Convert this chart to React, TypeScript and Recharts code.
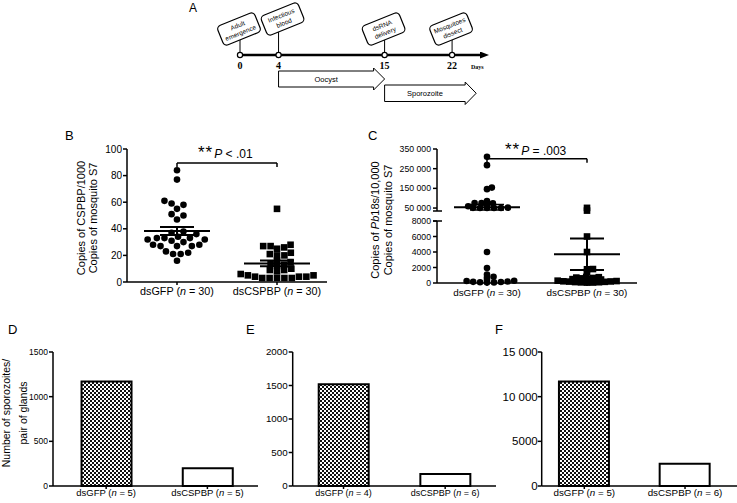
import React from 'react';
import {
  ScatterChart, Scatter, XAxis, YAxis, ReferenceLine, ReferenceArea, ErrorBar,
  BarChart, Bar, Cell,
} from 'recharts';

const SANS = '"Liberation Sans", Arial, Helvetica, sans-serif';
const SERIF = '"Liberation Serif", "Times New Roman", serif';
const NBSP = '\u00A0';

// ---------------- Panel A: timeline ----------------
const timelineDays = [0, 4, 15, 22];
const timelineEvents = [
  ['Adult', 'emergence'],
  ['Infectious', 'blood'],
  ['dsRNA', 'delivery'],
  ['Mosquitoes', 'dissect'],
];
const stageNames = ['Oocyst', 'Sporozoite'];
const stageStartDay = [4, 15];
const stageEndDay = [15, 24.5];

// ---------------- Groups ----------------
const groupNames = ['dsGFP', 'dsCSPBP'];

// Panel B: copies of CSPBP / 1000 copies of S7
const bGroupN = [30, 30];
const bGfpCopies = [84, 77, 61, 59, 58, 55, 51, 50, 47, 38, 37, 36, 34, 33, 33, 33, 32, 32, 31, 30, 28, 28, 27, 27, 27, 23, 22, 21, 21, 16];
const bCspbpCopies = [55, 28, 27, 27, 26, 25, 22, 21, 20, 20, 16, 15, 14, 13, 12, 10, 9, 9, 8, 6, 5, 5, 4, 4, 4, 3, 3, 3, 3, 3];

// Panel C: copies of Pb18s / 10,000 copies of S7
const cGroupN = [30, 30];
const cGfpCopies = [311000, 268000, 154000, 146000, 85000, 76000, 75000, 74000, 68000, 59000, 52000, 51000, 50000, 50000, 50000, 50000, 4000, 1940, 1100, 800, 700, 400, 300, 250, 200, 150, 120, 100, 80, 60];
const cCspbpCopies = [51000, 37000, 6000, 4000, 1800, 1770, 1420, 800, 750, 700, 650, 600, 550, 500, 450, 400, 380, 350, 300, 280, 250, 220, 200, 180, 150, 120, 100, 80, 60, 50];

// Panels D, E, F: sporozoites per pair of glands
const dSporozoites = [1170, 200];
const dGroupN = [5, 5];
const eSporozoites = [1520, 180];
const eGroupN = [4, 6];
const fSporozoites = [11700, 2500];
const fGroupN = [5, 6];

// ---------------- helpers ----------------
const mean = (a: number[]) => a.reduce((s, v) => s + v, 0) / a.length;
const sem = (a: number[]) => {
  const m = mean(a);
  const sd = Math.sqrt(a.reduce((s, v) => s + (v - m) * (v - m), 0) / (a.length - 1));
  return sd / Math.sqrt(a.length);
};

// beeswarm: horizontal offsets (px) so that marks do not collide; k stretches vertical distance
function swarmOffsets(values: number[], toPx: (v: number) => number, gap: number, k = 1): number[] {
  const order = values.map((_, i) => i).sort((a, b) => values[a] - values[b]);
  const placed: { x: number; y: number }[] = [];
  const out = new Array(values.length).fill(0);
  for (const i of order) {
    const y = toPx(values[i]);
    const blocks: [number, number][] = [];
    for (const p of placed) {
      const dy = Math.abs(p.y - y) * k;
      if (dy < gap) {
        const dx = Math.sqrt(gap * gap - dy * dy);
        blocks.push([p.x - dx, p.x + dx]);
      }
    }
    const cands = [0];
    blocks.forEach(([a, b]) => cands.push(a, b));
    cands.sort((a, b) => Math.abs(a) - Math.abs(b) || b - a);
    let best = 0;
    for (const c of cands) {
      if (blocks.every(([a, b]) => c <= a + 1e-6 || c >= b - 1e-6)) { best = c; break; }
    }
    out[i] = best;
    placed.push({ x: best, y });
  }
  return out;
}

const AX = { stroke: '#000', strokeWidth: 1.5 };

function makeGroupTick(ns: number[], fontSize: number, dy: number) {
  return (props: any) => {
    const { x, y, payload } = props;
    const i = Math.round(payload.value) - 1;
    if (i < 0 || i > 1) return <g />;
    return (
      <text x={x} y={y} dy={dy} textAnchor="middle" fontSize={fontSize} fontFamily={SANS} fill="#000">
        {`${groupNames[i]} (`}<tspan fontStyle="italic">n</tspan>{` = ${ns[i]})`}
      </text>
    );
  };
}

const Dot = (p: any) => <circle cx={p.cx + (p.payload.off || 0)} cy={p.cy} r={3.3} fill="#000" />;
const Sq = (p: any) => <rect x={p.cx + (p.payload.off || 0) - 3.3} y={p.cy - 3.3} width={6.6} height={6.6} fill="#000" />;
const MeanLine = (p: any) => (
  <line x1={p.cx - 33} x2={p.cx + 33} y1={p.cy} y2={p.cy} stroke="#000" strokeWidth={2} />
);

// ---------------- Panel A ----------------
const A_WIDTH = 320, A_LEFT = 60, A_RIGHT = 19, A_DOMAIN_MAX = 25;
const A_PX_PER_DAY = (A_WIDTH - A_LEFT - A_RIGHT) / A_DOMAIN_MAX;

const EventShape = (p: any) => {
  const { cx, cy, payload } = p;
  const [l1, l2] = payload.lines;
  const lift = payload.crowded ? 10 : 0;
  const shift = payload.crowded ? 4 : -1;
  return (
    <g>
      <line x1={cx} y1={cy} x2={cx} y2={cy - 15 - lift} stroke="#000" strokeWidth={1} />
      <g transform={`translate(${cx + shift},${cy - 26 - lift}) rotate(-22)`}>
        <rect x={-20} y={-10.5} width={40} height={21} rx={4} fill="#fff" stroke="#000" strokeWidth={1.2} />
        <text textAnchor="middle" fontSize={6.5} fontFamily={SANS} fill="#000">
          <tspan x={0} y={-1.5}>{l1}</tspan>
          <tspan x={0} y={6.5}>{l2}</tspan>
        </text>
      </g>
      <circle cx={cx} cy={cy} r={2.6} fill="#fff" stroke="#000" strokeWidth={1.2} />
    </g>
  );
};

const StageArrow = (p: any) => {
  const { x, y, width, height, label } = p;
  const head = 11, flare = 3;
  const x2 = x + width;
  const xb = x2 - head;
  const pts = `${x},${y} ${xb},${y} ${xb},${y - flare} ${x2},${y + height / 2} ${xb},${y + height + flare} ${xb},${y + height} ${x},${y + height}`;
  return (
    <g>
      <polygon points={pts} fill="#fff" stroke="#000" strokeWidth={1} />
      <text x={(x + xb) / 2} y={y + height / 2} dy="0.35em" textAnchor="middle" fontSize={7.5} fontFamily={SANS} fill="#000">{label}</text>
    </g>
  );
};

const STAGE_ROWS: [number, number][] = [[-16, -32], [-30, -46.5]];

function PanelA() {
  const events = timelineDays.map((d, i) => ({
    day: d, y: 0, lines: timelineEvents[i],
    crowded: i > 0 && (d - timelineDays[i - 1]) * A_PX_PER_DAY < 50,
  }));
  return (
    <ScatterChart width={A_WIDTH} height={110} margin={{ top: 0, right: A_RIGHT, bottom: 0, left: A_LEFT }}>
      <XAxis type="number" dataKey="day" domain={[0, A_DOMAIN_MAX]} ticks={timelineDays} interval={0} height={55}
        tickLine={false} tickSize={0} tickMargin={7}
        axisLine={{ stroke: '#000', strokeWidth: 2.5, markerEnd: 'url(#tlArrow)' }}
        tick={{ fontSize: 10, fontFamily: SERIF, fontWeight: 'bold', fill: '#000' }} />
      <YAxis type="number" dataKey="y" domain={[0, 55]} hide />
      {stageNames.map((s, i) => (
        <ReferenceArea key={s} x1={stageStartDay[i]} x2={stageEndDay[i]} y1={STAGE_ROWS[i][0]} y2={STAGE_ROWS[i][1]}
          ifOverflow="visible" shape={(sp: any) => <StageArrow {...sp} label={s} />} />
      ))}
      <Scatter data={events} isAnimationActive={false} shape={EventShape} />
    </ScatterChart>
  );
}

// ---------------- Panel B ----------------
const B_PLOT_H = 133;
function PanelB() {
  const toPx = (v: number) => -v * B_PLOT_H / 100;
  const og = swarmOffsets(bGfpCopies, toPx, 7.6);
  const oc = swarmOffsets(bCspbpCopies, toPx, 7.4, 1.4);
  const gfp = bGfpCopies.map((v, i) => ({ x: 1, y: v, off: og[i] }));
  const csp = bCspbpCopies.map((v, i) => ({ x: 2, y: v, off: oc[i] }));
  const summary = [
    { x: 1, y: mean(bGfpCopies), sem: sem(bGfpCopies) },
    { x: 2, y: mean(bCspbpCopies), sem: sem(bCspbpCopies) },
  ];
  return (
    <ScatterChart width={290} height={175} margin={{ top: 19, right: 13, bottom: 0, left: 0 }}>
      <XAxis type="number" dataKey="x" domain={[0.5, 2.5]} ticks={[1, 2]} interval={0} height={23}
        tickSize={3} tickMargin={2} axisLine={AX} tickLine={AX} tick={makeGroupTick(bGroupN, 10.8, 7.5)} />
      <YAxis type="number" dataKey="y" domain={[0, 100]} ticks={[0, 20, 40, 60, 80, 100]} interval={0} width={77}
        tickSize={4} tickMargin={1} axisLine={AX} tickLine={AX}
        tick={{ fontSize: 10, fontFamily: SANS, fill: '#000' }} />
      <ReferenceLine segment={[{ x: 1, y: 89.5 }, { x: 2, y: 89.5 }]} stroke="#000" strokeWidth={1.5} />
      <ReferenceLine segment={[{ x: 1, y: 89.5 }, { x: 1, y: 86.5 }]} stroke="#000" strokeWidth={1.5} />
      <ReferenceLine segment={[{ x: 2, y: 89.5 }, { x: 2, y: 86.5 }]} stroke="#000" strokeWidth={1.5} />
      <Scatter data={gfp} isAnimationActive={false} shape={Dot} />
      <Scatter data={csp} isAnimationActive={false} shape={Sq} />
      <Scatter data={summary} isAnimationActive={false} shape={MeanLine}>
        <ErrorBar dataKey="sem" direction="y" width={17} stroke="#000" strokeWidth={2} />
      </Scatter>
    </ScatterChart>
  );
}

// ---------------- Panel C (broken axis) ----------------
const C_UP_TOP = 149, C_UP_H = 62, C_UP_MIN = 35000, C_UP_MAX = 350000;
const C_LO_TOP = 221, C_LO_H = 62, C_LO_MAX = 8000;
const C_SPLIT = 20000;
function cPx(v: number) {
  if (v >= C_SPLIT) return C_UP_TOP + C_UP_H - (v - C_UP_MIN) * C_UP_H / (C_UP_MAX - C_UP_MIN);
  return C_LO_TOP + C_LO_H - v * C_LO_H / C_LO_MAX;
}
const upFmt = (v: number) => `${v / 1000}${NBSP}000`;

function PanelC() {
  const og = swarmOffsets(cGfpCopies, cPx, 7, 3.2);
  const oc = swarmOffsets(cCspbpCopies, cPx, 6, 3);
  const gfp = cGfpCopies.map((v, i) => ({ x: 1, y: v, off: og[i] }));
  const csp = cCspbpCopies.map((v, i) => ({ x: 2, y: v, off: oc[i] }));
  const mg = mean(cGfpCopies), mc = mean(cCspbpCopies);
  const sumG = [{ x: 1, y: mg, sem: sem(cGfpCopies) }];
  const sumC = [{ x: 2, y: mc, sem: sem(cCspbpCopies) }];
  const upper = (d: any[]) => d.filter((p) => p.y >= C_SPLIT);
  const lower = (d: any[]) => d.filter((p) => p.y < C_SPLIT);
  const upTop = C_UP_TOP - 130;
  return (
    <>
      <div style={{ position: 'absolute', left: 360, top: 130 }}>
        <ScatterChart width={290} height={upTop + C_UP_H + 10} margin={{ top: upTop, right: 13, bottom: 10, left: 0 }}>
          <XAxis type="number" dataKey="x" domain={[0.5, 2.5]} hide />
          <YAxis type="number" dataKey="y" domain={[C_UP_MIN, C_UP_MAX]} ticks={[50000, 150000, 250000, 350000]} interval={0}
            width={77} tickSize={4} tickMargin={2} axisLine={AX} tickLine={AX} tickFormatter={upFmt}
            tick={{ fontSize: 8.7, fontFamily: SANS, fill: '#000' }} />
          <ReferenceLine segment={[{ x: 1, y: 300000 }, { x: 2, y: 300000 }]} stroke="#000" strokeWidth={1.5} />
          <ReferenceLine segment={[{ x: 1, y: 300000 }, { x: 1, y: 280000 }]} stroke="#000" strokeWidth={1.5} />
          <ReferenceLine segment={[{ x: 2, y: 300000 }, { x: 2, y: 280000 }]} stroke="#000" strokeWidth={1.5} />
          <Scatter data={upper(gfp)} isAnimationActive={false} shape={Dot} />
          <Scatter data={upper(csp)} isAnimationActive={false} shape={Sq} />
          <Scatter data={upper(sumG)} isAnimationActive={false} shape={MeanLine}>
            <ErrorBar dataKey="sem" direction="y" width={17} stroke="#000" strokeWidth={1.5} />
          </Scatter>
        </ScatterChart>
      </div>
      <div style={{ position: 'absolute', left: 360, top: 200 }}>
        <ScatterChart width={290} height={105} margin={{ top: C_LO_TOP - 200, right: 13, bottom: 0, left: 0 }}>
          <XAxis type="number" dataKey="x" domain={[0.5, 2.5]} ticks={[1, 2]} interval={0} height={105 - (C_LO_TOP - 200) - C_LO_H}
            tickSize={3} tickMargin={2} axisLine={AX} tickLine={AX} tick={makeGroupTick(cGroupN, 9.9, 7.5)} />
          <YAxis type="number" dataKey="y" domain={[0, C_LO_MAX]} ticks={[0, 2000, 4000, 6000, 8000]} interval={0}
            width={77} tickSize={4} tickMargin={2} axisLine={AX} tickLine={AX}
            tick={{ fontSize: 8.7, fontFamily: SANS, fill: '#000' }} />
          <Scatter data={lower(gfp)} isAnimationActive={false} shape={Dot} />
          <Scatter data={lower(csp)} isAnimationActive={false} shape={Sq} />
          <Scatter data={lower(sumC)} isAnimationActive={false} shape={MeanLine}>
            <ErrorBar dataKey="sem" direction="y" width={17} stroke="#000" strokeWidth={2} />
          </Scatter>
        </ScatterChart>
      </div>
    </>
  );
}

// ---------------- Panels D, E, F ----------------
function BarPanel(props: {
  left: number; width: number; yWidth: number; values: number[]; ns: number[];
  domainX: [number, number]; yMax: number; yTicks: number[]; yFont: number; xFont: number; tickMargin: number;
  fmt?: (v: number) => string;
}) {
  const { left, width, yWidth, values, ns, domainX, yMax, yTicks, yFont, xFont, tickMargin, fmt } = props;
  const data = values.map((v, i) => ({ x: i + 1, value: v }));
  return (
    <div style={{ position: 'absolute', left, top: 330 }}>
      <BarChart width={width} height={173} data={data} margin={{ top: 22, right: 0, bottom: 0, left: 0 }}>
        <XAxis type="number" dataKey="x" domain={domainX} ticks={[1, 2]} interval={0} allowDataOverflow height={17}
          tickSize={3} tickMargin={2} axisLine={AX} tickLine={AX} tick={makeGroupTick(ns, xFont, 5)} />
        <YAxis type="number" domain={[0, yMax]} ticks={yTicks} interval={0} width={yWidth}
          tickSize={4} tickMargin={tickMargin} axisLine={AX} tickLine={AX} tickFormatter={fmt}
          tick={{ fontSize: yFont, fontFamily: SANS, fill: '#000' }} />
        <Bar dataKey="value" barSize={50} stroke="#000" strokeWidth={2} isAnimationActive={false}>
          {data.map((d, i) => <Cell key={i} fill={i === 0 ? 'url(#checker)' : '#fff'} />)}
        </Bar>
      </BarChart>
    </div>
  );
}

const fFmt = (v: number) => (v >= 10000 ? `${v / 1000}${NBSP}000` : `${v}`);

// ---------------- Overlay (labels, defs) ----------------
function Overlay() {
  const letter = { fontSize: 13, fontFamily: SANS, fill: '#000' } as const;
  return (
    <svg width={737} height={503} style={{ position: 'absolute', left: 0, top: 0, pointerEvents: 'none' }}>
      <defs>
        <pattern id="checker" width={4} height={4} patternUnits="userSpaceOnUse">
          <rect x={0} y={0} width={4} height={4} fill="#fff" />
          <rect x={0} y={0} width={2} height={2} fill="#111" />
          <rect x={2} y={2} width={2} height={2} fill="#111" />
        </pattern>
        <marker id="tlArrow" markerWidth={9} markerHeight={7} refX={1} refY={3.5} orient="auto" markerUnits="userSpaceOnUse">
          <path d="M0,0 L9,3.5 L0,7 z" fill="#000" />
        </marker>
      </defs>
      <text x={189} y={12} {...letter} fontSize={12}>A</text>
      <text x={65} y={140} {...letter}>B</text>
      <text x={368} y={140} {...letter}>C</text>
      <text x={8} y={334} {...letter}>D</text>
      <text x={246} y={334} {...letter}>E</text>
      <text x={495} y={334} {...letter}>F</text>

      <text x={471} y={68.5} fontSize={6} fontFamily={SERIF} fontWeight="bold" fill="#000">Days</text>

      {/* B axis title */}
      <text transform="translate(85,218) rotate(-90)" textAnchor="middle" fontSize={11} fontFamily={SANS} fill="#000">Copies of CSPBP/1000</text>
      <text transform="translate(97,218) rotate(-90)" textAnchor="middle" fontSize={11} fontFamily={SANS} fill="#000">Copies of mosquito S7</text>
      {/* C axis title */}
      <text transform="translate(379,220) rotate(-90)" textAnchor="middle" fontSize={11} fontFamily={SANS} fill="#000">
        Copies of <tspan fontStyle="italic">Pb</tspan>18s/10,000
      </text>
      <text transform="translate(391.5,220) rotate(-90)" textAnchor="middle" fontSize={11} fontFamily={SANS} fill="#000">Copies of mosquito S7</text>
      {/* D axis title */}
      <text transform="translate(10,413) rotate(-90)" textAnchor="middle" fontSize={10.5} fontFamily={SANS} fill="#000">Number of sporozoites/</text>
      <text transform="translate(27,413) rotate(-90)" textAnchor="middle" fontSize={10.5} fontFamily={SANS} fill="#000">pair of glands</text>

      {/* significance texts */}
      <text x={198} y={158.3} fontFamily={SANS} fill="#000">
        <tspan fontSize={17} letterSpacing={1}>**</tspan>
        <tspan fontSize={12} fontStyle="italic" dx={1}>P</tspan>
        <tspan fontSize={12}> &lt; .01</tspan>
      </text>
      <text x={505} y={155} fontFamily={SANS} fill="#000">
        <tspan fontSize={17} letterSpacing={1}>**</tspan>
        <tspan fontSize={12} fontStyle="italic" dx={1}>P</tspan>
        <tspan fontSize={12}> = .003</tspan>
      </text>

      {/* axis break caps */}
      <line x1={433} x2={442} y1={211} y2={211} stroke="#000" strokeWidth={1.5} />
      <line x1={433} x2={442} y1={221} y2={221} stroke="#000" strokeWidth={1.5} />
    </svg>
  );
}

export default function App() {
  return (
    <div style={{ position: 'absolute', left: 0, top: 0, width: 737, height: 503, overflow: 'hidden', background: '#fff', fontFamily: SANS }}>
      <div style={{ position: 'absolute', left: 180, top: 0 }}>
        <PanelA />
      </div>
      <div style={{ position: 'absolute', left: 50, top: 130 }}>
        <PanelB />
      </div>
      <PanelC />
      <BarPanel left={0} width={258} yWidth={53} values={dSporozoites} ns={dGroupN} domainX={[0.475, 2.5]}
        yMax={1500} yTicks={[0, 500, 1000, 1500]} yFont={8.5} xFont={9.5} tickMargin={1} />
      <BarPanel left={250} width={246} yWidth={42.7} values={eSporozoites} ns={eGroupN} domainX={[0.5, 2.5]}
        yMax={2000} yTicks={[0, 500, 1000, 1500, 2000]} yFont={9.8} xFont={9} tickMargin={1} />
      <BarPanel left={500} width={237} yWidth={41.7} values={fSporozoites} ns={fGroupN} domainX={[0.577, 2.516]}
        yMax={15000} yTicks={[0, 5000, 10000, 15000]} yFont={11.5} xFont={9.8} tickMargin={0} fmt={fFmt} />
      <Overlay />
    </div>
  );
}
